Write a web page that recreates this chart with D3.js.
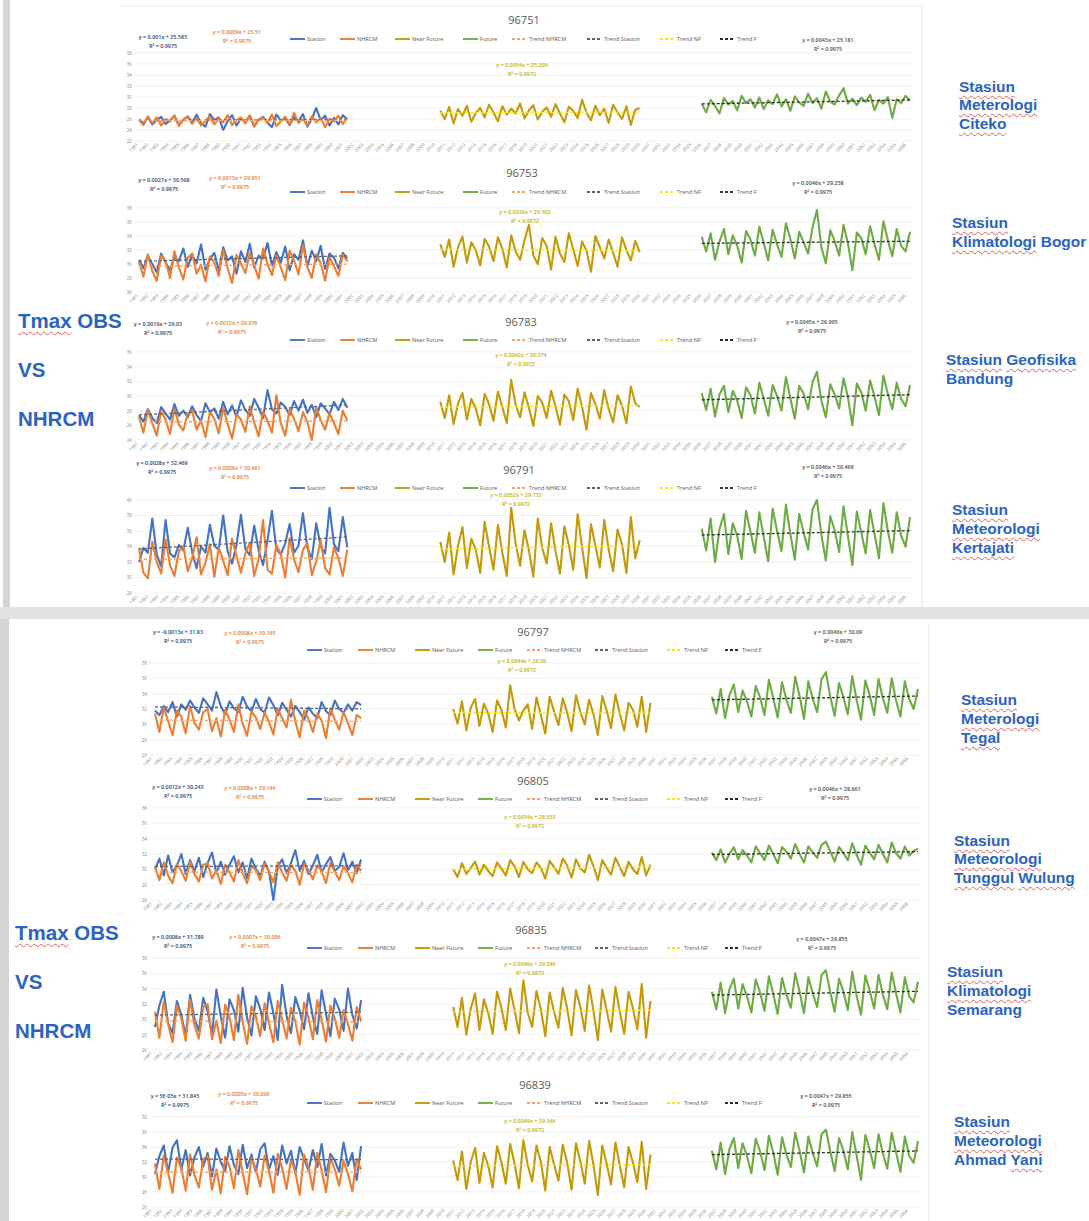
<!DOCTYPE html>
<html>
<head>
<meta charset="utf-8">
<script src="https://cdn.jsdelivr.net/npm/d3@7"></script>
<style>
  body { margin: 0; background: #fff; }
  #wrap { position: relative; width: 1089px; height: 1221px; overflow: hidden; background: #fff; }
  #chart { position: absolute; left: 0; top: 0; }
  .lab { position: absolute; color: #2b63c4; font-family: "Liberation Sans", Arial, sans-serif;
         font-weight: bold; line-height: 1; white-space: nowrap; }
  .sq { text-decoration-line: underline; text-decoration-style: wavy; text-decoration-color: #e06060;
        text-decoration-thickness: 1px; text-underline-offset: 3px; }
</style>
</head>
<body>
<div id="wrap"><svg id="chart" width="1089" height="1221"></svg></div>
<script>
// ---- chart data -------------------------------------------------------
const chartIds = ["96751", "96753", "96783", "96791", "96797", "96805", "96835", "96839"];

const stationNames = [
  ["Stasiun", "Meterologi", "Citeko"],
  ["Stasiun", "Klimatologi Bogor"],
  ["Stasiun Geofisika", "Bandung"],
  ["Stasiun", "Meteorologi", "Kertajati"],
  ["Stasiun", "Meterologi", "Tegal"],
  ["Stasiun", "Meteorologi", "Tunggul Wulung"],
  ["Stasiun", "Klimatologi", "Semarang"],
  ["Stasiun", "Meteorologi", "Ahmad Yani"]
];
const flaggedWords = ["Tmax", "Stasiun", "Meterologi", "Meteorologi", "Klimatologi", "Geofisika",
  "Citeko", "Kertajati", "Tegal", "Tunggul", "Wulung", "Yani"];
const sideTitle = ["Tmax OBS", "VS", "NHRCM"];

const legendNames = ["Station", "NHRCM", "Near Future", "Future", "Trend NHRCM", "Trend Stasiun", "Trend NF", "Trend F"];

const yTicks = [
  [22, 24, 26, 28, 30, 32, 34, 36, 38],
  [26, 28, 30, 32, 34, 36, 38],
  [24, 26, 28, 30, 32, 34, 36],
  [28, 30, 32, 34, 36, 38, 40],
  [26, 28, 30, 32, 34, 36, 38],
  [26, 28, 30, 32, 34, 36, 38],
  [26, 28, 30, 32, 34, 36, 38],
  [26, 28, 30, 32, 34, 36, 38]
];
const xTickLabels = d3.range(1981, 2057).map(String);

const eqStation = ["y = 0.001x + 25.583", "y = 0.0027x + 30.568", "y = 0.0016x + 29.03", "y = 0.0028x + 32.469",
  "y = -0.0013x + 31.83", "y = 0.0012x + 30.243", "y = 0.0008x + 31.789", "y = 5E-05x + 31.845"];
const eqNhrcm = ["y = 0.0009x + 25.51", "y = 0.0013x + 29.951", "y = 0.0012x + 26.976", "y = 0.0009x + 30.461",
  "y = 0.0008x + 30.165", "y = 0.0008x + 29.144", "y = 0.0007x + 30.096", "y = 0.0005x + 30.096"];
const eqNear = ["y = 0.0054x + 25.209", "y = 0.0036x + 29.502", "y = 0.0042x + 26.374", "y = 0.0052x + 29.733",
  "y = 0.0044x + 29.59", "y = 0.0034x + 28.553", "y = 0.0049x + 29.046", "y = 0.0049x + 29.346"];
const eqFuture = ["y = 0.0043x + 25.181", "y = 0.0046x + 29.238", "y = 0.0045x + 26.995", "y = 0.0046x + 30.469",
  "y = 0.0046x + 30.09", "y = 0.0046x + 28.661", "y = 0.0047x + 29.855", "y = 0.0047x + 29.855"];
const r2Obs = "R² = 0.9975";
const r2Near = "R² = 0.9972";
const r2Future = "R² = 0.9975";

// observed Tmax (°C)
const stationObs = [
  [25.9,25.2,26.3,25.0,25.8,26.4,25.1,25.7,26.6,24.9,25.9,26.5, 25.4,26.8,25.2,24.6,26.9,25.8,26.3,24.0,25.6,26.7,24.8,26.1,
   25.5,26.6,24.7,25.9,26.4,25.3,24.5,26.8,25.7,26.1,24.9,26.3, 25.6,26.9,24.6,26.0,28.0,25.8,26.6,24.8,26.2,25.0,26.7,25.9],
  [30.6,29.4,31.2,30.0,28.8,31.5,30.2,29.1,31.0,30.4,32.2,29.6, 31.3,30.1,32.8,29.2,30.7,31.6,29.0,32.4,30.5,31.1,28.6,31.8,
   30.3,32.9,29.5,31.2,30.8,33.0,29.8,31.7,30.2,32.5,29.1,31.4, 30.6,33.4,29.7,31.9,30.4,32.6,29.3,31.5,30.9,29.4,31.6,30.8],
  [27.4,26.5,28.2,27.0,26.3,28.5,27.6,26.8,28.9,27.3,28.0,27.1, 28.6,27.4,26.6,29.0,27.8,28.3,26.9,29.2,27.5,28.7,27.2,29.4,
   28.1,27.3,29.6,28.4,27.0,30.8,28.2,27.6,29.1,28.5,27.4,29.3, 28.0,29.5,27.7,28.8,27.1,29.0,28.3,27.5,29.2,28.1,29.6,28.4],
  [32.0,33.8,33.2,37.6,33.0,31.4,37.4,33.1,32.6,34.2,33.5,36.4, 33.3,31.2,34.0,33.2,36.8,34.1,33.6,38.0,33.4,31.8,34.2,38.1,
   33.7,32.9,36.7,33.5,31.6,34.8,38.6,33.6,33.0,34.4,36.9,33.2, 34.1,38.3,33.8,32.4,37.0,34.0,33.1,39.0,34.3,33.4,37.8,33.9],
  [31.8,31.2,32.4,31.6,32.9,31.0,32.6,31.9,33.1,32.2,31.5,33.4, 32.6,31.8,34.2,32.4,31.3,33.0,32.1,31.6,33.6,32.3,31.7,33.3,
   32.0,31.5,33.5,32.5,31.2,32.8,31.9,31.0,32.4,31.6,30.6,32.2, 31.4,30.8,32.9,31.7,31.2,33.1,32.0,31.5,32.6,31.8,32.9,32.5],
  [30.0,31.4,29.2,31.8,29.6,30.5,32.0,29.4,31.2,29.8,31.5,29.0, 30.8,32.2,29.5,31.0,29.3,30.6,31.7,29.6,30.9,28.8,31.4,30.1,
   29.2,31.0,29.7,26.0,30.4,31.3,29.5,30.8,32.5,29.8,31.1,29.4, 30.5,31.9,29.6,30.7,31.6,29.8,30.3,32.1,29.9,31.0,29.5,31.3],
  [29.0,31.8,33.6,29.5,28.2,32.4,30.6,27.8,33.2,30.1,28.5,32.8, 31.0,28.0,33.9,30.4,27.6,32.6,31.2,28.4,34.1,30.2,27.9,33.0,
   31.4,28.6,33.5,30.8,27.3,34.5,30.5,28.2,32.9,31.1,28.7,33.4, 30.3,28.1,33.8,30.7,27.8,32.7,31.3,28.5,34.0,30.6,28.8,32.5],
  [30.4,32.8,34.2,30.6,33.9,34.9,31.0,33.6,30.2,32.6,34.0,31.4, 33.2,30.1,33.8,32.0,30.8,34.1,31.6,30.4,34.3,31.2,33.0,30.6,
   33.7,34.5,31.0,32.8,30.3,34.2,31.8,33.5,30.5,34.0,32.4,30.9, 33.6,31.3,34.4,30.2,33.1,32.2,30.7,34.6,31.5,33.2,29.6,34.1]
];

// NHRCM historical run (°C)
const nhrcmHist = [
  [25.8,24.9,26.5,25.2,26.3,24.8,26.0,25.5,26.6,24.7,25.9,26.4, 25.1,26.2,24.8,25.7,26.5,25.0,26.1,25.4,26.7,24.9,25.8,26.3,
   25.2,26.6,24.6,25.9,26.2,25.3,26.8,24.7,25.6,26.4,25.0,27.1, 25.3,26.0,24.8,26.5,25.4,26.2,24.5,26.0,25.6,26.6,25.1,26.2],
  [30.3,28.2,31.4,29.0,27.6,31.2,30.4,28.0,31.8,29.5,27.8,30.9, 31.5,28.6,29.9,27.5,31.1,30.2,28.3,32.0,29.4,27.3,31.3,30.1,
   28.7,31.6,29.8,27.9,32.2,30.0,28.4,31.2,29.5,27.7,31.9,30.5, 28.5,32.7,29.6,28.0,31.4,30.1,27.6,31.0,29.7,28.3,31.3,30.4],
  [27.2,25.0,28.1,26.3,24.6,27.9,26.8,24.8,28.3,26.1,25.3,27.6, 28.0,25.4,26.7,24.4,27.8,26.9,24.9,28.4,26.2,24.2,27.5,26.8,
   25.1,28.6,26.4,24.5,27.9,26.6,25.0,30.1,26.3,24.6,28.2,26.9, 25.2,27.8,26.5,24.0,28.5,26.7,25.4,27.7,26.3,24.8,28.0,26.6],
  [33.8,30.6,29.9,34.6,32.0,30.5,34.9,31.6,30.2,33.4,34.1,30.8, 32.5,35.2,30.4,31.9,34.3,30.1,33.8,32.2,30.3,35.0,32.8,30.6,
   33.1,34.5,30.2,32.4,37.4,31.0,30.5,34.2,33.0,30.0,35.1,32.3, 30.7,33.6,34.4,30.3,32.1,34.8,31.2,30.4,33.9,32.5,30.2,33.6],
  [31.4,29.0,32.2,30.4,28.6,31.8,31.0,28.8,32.4,30.2,29.3,31.6, 32.0,29.1,30.8,28.4,31.9,30.6,29.0,32.6,30.1,28.5,31.7,30.9,
   29.4,31.5,30.3,28.7,32.0,30.8,29.6,33.2,30.4,28.3,31.8,30.7, 29.0,31.4,30.5,28.2,32.1,30.6,29.3,31.6,30.2,28.6,31.2,30.8],
  [30.4,28.6,30.9,29.2,28.2,30.7,29.8,28.5,31.0,29.4,28.4,30.6, 30.8,28.8,29.9,28.1,30.6,29.6,28.4,31.2,29.5,28.2,30.5,29.9,
   28.6,30.8,29.7,28.3,30.9,29.6,28.5,30.6,29.8,28.0,30.7,29.9, 28.7,30.5,29.8,28.2,30.9,29.7,28.6,30.4,29.5,28.3,30.6,29.8],
  [31.0,27.6,32.3,29.4,27.0,31.8,30.1,27.2,32.6,29.2,27.5,31.6, 32.0,27.4,29.8,26.9,31.9,30.3,27.3,33.2,29.6,26.8,31.7,30.4,
   27.8,32.1,29.5,27.0,32.4,30.0,27.5,31.5,29.7,26.7,32.2,30.2, 27.4,32.5,29.9,27.1,31.8,30.1,27.6,31.2,29.4,27.2,31.6,29.8],
  [31.8,28.4,32.9,30.5,27.9,32.6,31.2,28.2,33.0,30.3,28.6,32.4, 32.8,28.3,31.0,27.8,32.7,31.4,28.5,33.6,30.6,27.7,32.5,31.1,
   28.7,32.9,30.8,27.9,33.1,31.2,28.4,32.3,30.7,27.6,33.0,31.3, 28.3,33.2,30.9,28.0,32.6,31.0,28.8,32.2,30.4,28.1,32.4,31.0]
];

// NHRCM near-future projection (°C)
const nearFuture = [
  [27.5,26.0,28.2,25.2,27.8,26.6,28.4,25.5,27.1,28.0,26.3,28.6, 27.2,25.6,28.3,26.8,27.9,27.0,28.8,26.1,27.6,28.5,25.9,27.3,
   28.1,26.4,28.7,27.0,25.4,28.2,27.5,26.2,29.5,27.1,25.8,28.4, 26.7,27.9,25.3,28.6,27.2,26.0,28.3,24.9,27.7,28.0],
  [32.8,31.0,33.5,29.6,32.4,33.9,30.2,33.1,32.0,29.8,33.6,32.5, 30.4,33.8,32.2,29.5,34.1,31.8,30.6,33.4,35.6,31.2,30.0,33.7,
   32.6,29.2,33.9,31.5,30.3,34.4,32.1,29.7,33.2,31.9,28.9,34.0, 32.4,30.8,33.5,31.6,29.6,33.8,32.0,30.5,33.3,31.7],
  [29.2,27.0,30.1,26.2,29.0,30.4,26.8,29.6,28.3,26.0,30.3,28.9, 26.6,30.6,28.5,26.3,32.2,28.8,27.1,30.5,28.4,25.9,30.0,29.1,
   27.0,30.7,28.6,26.1,30.2,29.3,26.7,31.0,28.5,25.4,30.4,28.9, 26.9,30.8,28.2,26.4,30.1,28.7,26.3,31.3,29.0,28.5],
  [34.6,32.0,35.8,30.4,34.1,36.5,31.2,35.0,33.6,30.6,37.2,34.0, 31.0,36.8,33.2,30.2,39.0,34.4,31.5,36.1,33.5,30.1,37.6,33.8,
   31.8,37.0,33.4,30.5,36.6,34.2,31.0,38.2,33.9,29.9,36.9,34.1, 31.3,37.4,33.6,30.8,36.2,34.3,30.6,37.8,32.5,34.8],
  [32.0,30.1,33.0,29.2,32.2,33.3,29.8,32.7,31.4,29.0,33.1,31.9, 29.6,35.1,32.0,30.5,31.8,32.6,29.4,33.5,31.2,28.8,33.6,31.7,
   29.9,33.4,31.5,29.1,33.8,31.6,30.0,33.2,31.3,28.6,33.7,31.8, 29.5,33.9,31.4,29.2,32.8,31.9,29.7,33.6,29.0,32.8],
  [30.0,29.0,30.8,29.4,30.2,31.0,29.3,30.6,29.8,29.1,30.9,30.1, 29.2,31.2,30.4,29.0,31.0,30.0,29.5,30.9,30.2,28.8,31.1,30.3,
   29.4,31.4,30.5,28.9,31.3,30.1,29.6,31.9,30.4,28.6,31.2,30.2, 29.3,31.5,30.3,29.1,31.0,30.0,29.4,31.6,29.2,30.6],
  [31.6,29.0,32.8,28.0,31.4,33.4,28.6,32.6,30.8,28.1,33.6,31.5, 28.6,34.0,31.2,28.2,35.1,30.9,29.0,33.7,31.3,27.8,33.5,31.0,
   28.9,34.1,31.4,27.9,33.8,31.6,28.5,34.4,31.1,27.3,33.9,31.2, 28.4,34.2,31.0,28.1,33.6,31.4,28.7,34.6,27.6,32.4],
  [32.2,29.6,33.4,28.4,32.0,33.9,29.2,33.2,31.5,28.6,34.1,32.0, 29.1,34.4,31.8,28.5,34.9,31.6,29.4,34.2,32.0,28.2,34.0,31.7,
   29.5,34.3,31.9,28.3,34.5,32.1,29.1,34.8,31.6,27.6,34.2,31.8, 29.0,34.6,31.5,28.6,34.0,31.9,29.3,34.7,28.4,33.0]
];

// NHRCM far-future projection (°C)
const farFuture = [
  [28.8,27.2,29.5,28.4,27.0,29.8,28.6,29.3,27.6,30.2,28.9,29.6, 28.1,29.9,27.8,29.4,28.7,30.5,28.3,29.6,27.5,30.1,29.0,28.4,
   30.6,28.9,29.8,27.9,31.0,29.2,28.6,30.3,31.6,28.8,29.7,28.5, 29.9,29.1,30.4,27.6,29.5,28.8,30.0,26.2,29.6,28.9,30.2,29.4],
  [33.9,31.8,34.4,30.6,33.2,35.0,31.4,34.1,32.6,30.2,34.7,33.5, 31.2,35.3,33.0,30.5,34.9,32.8,31.0,35.8,33.6,30.8,34.6,33.1,
   31.5,35.2,37.7,32.4,30.1,34.8,33.3,31.2,35.6,32.9,29.1,34.5, 33.7,31.4,35.4,32.8,30.6,36.1,33.4,31.1,35.0,32.6,31.8,34.6],
  [30.4,28.1,31.0,27.2,30.2,31.4,27.8,30.7,29.4,27.0,31.2,30.1, 27.6,31.8,29.6,27.3,31.5,30.0,28.0,32.6,29.7,26.9,31.4,30.3,
   28.2,31.9,33.3,29.4,27.1,31.6,30.2,28.3,32.4,29.8,26.0,31.7, 30.5,28.0,32.1,29.9,27.4,32.8,30.3,28.2,31.8,29.6,28.6,31.5],
  [36.3,33.5,37.6,32.0,36.2,38.2,33.0,37.0,35.4,32.4,38.6,35.9, 33.2,38.4,35.2,32.1,38.9,36.0,33.4,39.4,35.6,32.3,38.2,35.8,
   33.6,38.8,40.0,35.5,32.2,37.9,36.1,33.3,39.2,35.3,31.6,38.5, 35.8,33.1,38.7,35.6,32.5,39.6,36.0,33.2,38.4,35.4,34.0,37.8],
  [33.6,31.4,34.6,30.8,33.8,35.2,31.6,34.4,33.0,31.0,35.0,33.5, 31.2,35.8,33.4,30.9,35.5,33.2,31.5,36.2,33.7,30.7,35.6,33.3,
   31.6,35.9,36.8,33.6,31.1,35.4,33.5,31.3,36.3,33.2,30.6,35.7, 33.8,31.2,35.9,33.4,31.5,36.0,33.1,31.0,35.6,33.3,32.0,34.6],
  [32.2,31.2,32.6,30.9,32.0,32.9,31.3,32.5,31.8,30.9,33.0,32.1, 31.2,33.1,32.0,30.8,32.9,32.3,31.4,33.3,32.0,30.9,33.0,32.2,
   31.5,33.2,33.6,32.3,31.0,32.9,32.1,31.2,33.4,31.9,30.6,33.1, 32.2,31.3,33.2,32.0,30.9,33.5,32.1,31.4,33.0,31.8,32.4,32.7],
  [33.6,31.3,34.8,30.8,33.9,35.3,31.4,34.6,33.0,30.9,35.2,33.5, 31.1,35.6,33.3,30.7,35.4,33.2,31.5,36.0,33.6,30.8,35.5,33.4,
   31.6,35.8,36.4,33.5,31.0,35.3,33.6,31.2,36.2,33.1,30.6,35.7, 33.7,31.4,35.8,33.2,31.3,36.1,33.4,30.9,35.5,33.0,32.2,34.9],
  [33.5,31.0,34.6,30.4,33.7,35.2,31.2,34.5,32.8,30.5,35.1,33.4, 30.9,35.5,33.2,30.3,35.3,33.0,31.3,35.9,33.5,30.6,35.4,33.2,
   31.4,35.7,36.3,33.4,30.8,35.2,33.5,31.0,36.0,32.9,29.6,35.6, 33.6,31.2,35.7,33.1,31.1,35.9,33.3,30.7,35.4,32.8,31.9,34.8]
];

// ---- layout -------------------------------------------------------------
const COL = {
  station: "#4472c4", nhrcm: "#ed7d31", near: "#c49a0a", future: "#6eab45",
  trNh: "#f4a46a", trSt: "#5a6478", trNf: "#ffe21a", trF: "#263326",
  eqSt: "#2a3f72", eqNh: "#e27a2e", eqNf: "#c2b000", eqF: "#4a4a4a",
  text: "#595959", tick: "#8c8c8c", grid: "#ececec"
};
const SLOT_NEAR = 68, SLOT_FAR = 127, SLOT_MAX = 174;

const panelA = { x0: 139, x1: 910, gridL: 134, gridR: 913, yLabX: 133, lab0: 137, lab1: 905,
  legendX: [290, 340, 395, 463, 512, 587, 660, 720] };
const panelB = { x0: 155, x1: 918, gridL: 150, gridR: 921, yLabX: 148, lab0: 151, lab1: 907,
  legendX: [307, 358, 415, 478, 527, 595, 667, 725] };

const boxes = [
  { p: panelA, tx: 524, ty: 24,   ly: 39,   top: 53,   bottom: 141,  st: [163, 39],   nh: [237, 34],   nf: [522, 67],   f: [828, 42] },
  { p: panelA, tx: 522, ty: 177,  ly: 192,  top: 208,  bottom: 292,  st: [164, 182],  nh: [235, 180],  nf: [525, 214],  f: [818, 185] },
  { p: panelA, tx: 521, ty: 326,  ly: 340,  top: 352,  bottom: 440,  st: [158, 326],  nh: [232, 325],  nf: [521, 357],  f: [812, 324] },
  { p: panelA, tx: 519, ty: 474,  ly: 488,  top: 500,  bottom: 593,  st: [162, 465],  nh: [235, 470],  nf: [516, 497],  f: [828, 469] },
  { p: panelB, tx: 533, ty: 636,  ly: 650,  top: 663,  bottom: 755,  st: [178, 634],  nh: [250, 635],  nf: [522, 663],  f: [838, 634] },
  { p: panelB, tx: 533, ty: 785,  ly: 799,  top: 808,  bottom: 900,  st: [178, 789],  nh: [250, 790],  nf: [530, 819],  f: [835, 791] },
  { p: panelB, tx: 531, ty: 934,  ly: 948,  top: 958,  bottom: 1050, st: [178, 939],  nh: [255, 939],  nf: [530, 966],  f: [822, 941] },
  { p: panelB, tx: 535, ty: 1089, ly: 1103, top: 1117, bottom: 1207, st: [175, 1098], nh: [244, 1096], nf: [530, 1123], f: [826, 1098] }
];

const sideLabelPos = [
  { x: 959, y: 92,   gap: 18.5 }, { x: 952, y: 228,  gap: 19 }, { x: 946, y: 365,  gap: 19 }, { x: 952, y: 515,  gap: 19 },
  { x: 961, y: 705,  gap: 19 },   { x: 954, y: 846,  gap: 18.5 }, { x: 947, y: 977, gap: 19 }, { x: 954, y: 1127, gap: 19 }
];
const leftTitlePos = [{ x: 18, y: 328 }, { x: 15, y: 940 }];

const svg = d3.select("#chart");
const FONT = "'Open Sans', 'Liberation Sans', sans-serif";

// ---- page frame (two stacked panels) -----------------------------------
svg.append("rect").attr("x", 3).attr("y", 0).attr("width", 7).attr("height", 607).attr("fill", "#d6d6d6");
svg.append("rect").attr("x", 0).attr("y", 607).attr("width", 1089).attr("height", 12).attr("fill", "#e2e2e2");
svg.append("rect").attr("x", 0).attr("y", 619).attr("width", 9).attr("height", 602).attr("fill", "#d4d4d4");
svg.append("line").attr("x1", 922).attr("x2", 922).attr("y1", 6).attr("y2", 607).attr("stroke", "#e6e6e6");
svg.append("line").attr("x1", 929).attr("x2", 929).attr("y1", 624).attr("y2", 1221).attr("stroke", "#e6e6e6");
svg.append("line").attr("x1", 120).attr("x2", 922).attr("y1", 6).attr("y2", 6).attr("stroke", "#eeeeee");

function linearFit(vals) {
  const n = vals.length, xm = (n - 1) / 2, ym = d3.mean(vals);
  let sxy = 0, sxx = 0;
  vals.forEach((v, i) => { sxy += (i - xm) * (v - ym); sxx += (i - xm) * (i - xm); });
  const b = sxy / sxx;
  return { a: ym - b * xm, b };
}

boxes.forEach((b, k) => {
  const P = b.p;
  const g = svg.append("g");
  const ticks = yTicks[k];
  const x = d3.scaleLinear().domain([0, SLOT_MAX]).range([P.x0, P.x1]);
  const y = d3.scaleLinear().domain([ticks[0], ticks[ticks.length - 1]]).range([b.bottom, b.top]);

  // horizontal gridlines
  g.append("g").selectAll("line").data(ticks).join("line")
    .attr("x1", P.gridL).attr("x2", P.gridR)
    .attr("y1", d => y(d)).attr("y2", d => y(d))
    .attr("stroke", COL.grid).attr("stroke-width", 0.7);

  // y axis labels
  const ya = g.append("g").attr("transform", `translate(${P.yLabX},0)`)
    .call(d3.axisLeft(y).tickValues(ticks).tickSize(0).tickPadding(1));
  ya.select(".domain").remove();
  ya.selectAll("text").attr("font-size", 4.6).attr("fill", COL.tick).attr("font-family", FONT);

  // x axis: rotated category labels
  const xl = d3.scalePoint().domain(xTickLabels).range([P.lab0, P.lab1]);
  const xa = g.append("g").attr("transform", `translate(0,${b.bottom + 3})`)
    .call(d3.axisBottom(xl).tickSize(0).tickPadding(0));
  xa.select(".domain").remove();
  xa.selectAll("text").attr("font-size", 4.6).attr("fill", COL.tick).attr("font-family", FONT)
    .attr("text-anchor", "end").attr("dy", "0.3em").attr("dx", "0")
    .attr("transform", "rotate(-45)");

  // series
  const series = [
    { vals: stationObs[k], start: 0, color: COL.station, trend: COL.trSt },
    { vals: nhrcmHist[k], start: 0, color: COL.nhrcm, trend: COL.trNh },
    { vals: nearFuture[k], start: SLOT_NEAR, color: COL.near, trend: COL.trNf },
    { vals: farFuture[k], start: SLOT_FAR, color: COL.future, trend: COL.trF }
  ];
  series.forEach(s => {
    const line = d3.line().x((d, i) => x(s.start + i)).y(d => y(d));
    g.append("path").datum(s.vals).attr("d", line)
      .attr("fill", "none").attr("stroke", s.color).attr("stroke-width", 2.1)
      .attr("stroke-linejoin", "round");
  });
  series.forEach(s => {
    const f = linearFit(s.vals);
    const n = s.vals.length;
    g.append("line")
      .attr("x1", x(s.start)).attr("x2", x(s.start + n - 1))
      .attr("y1", y(f.a)).attr("y2", y(f.a + f.b * (n - 1)))
      .attr("stroke", s.trend).attr("stroke-width", 1.3).attr("stroke-dasharray", "3,2");
  });

  // title
  g.append("text").attr("x", b.tx).attr("y", b.ty).attr("text-anchor", "middle")
    .attr("font-size", 11).attr("fill", COL.text).attr("font-family", FONT).text(chartIds[k]);

  // legend
  const legendStyle = [
    { c: COL.station, d: null }, { c: COL.nhrcm, d: null }, { c: COL.near, d: null }, { c: COL.future, d: null },
    { c: COL.trNh, d: "3,2" }, { c: COL.trSt, d: "3,2" }, { c: COL.trNf, d: "3,2" }, { c: COL.trF, d: "3,2" }
  ];
  legendNames.forEach((name, j) => {
    const lx = P.legendX[j];
    g.append("line").attr("x1", lx).attr("x2", lx + 15).attr("y1", b.ly).attr("y2", b.ly)
      .attr("stroke", legendStyle[j].c).attr("stroke-width", 1.9)
      .attr("stroke-dasharray", legendStyle[j].d);
    g.append("text").attr("x", lx + 17).attr("y", b.ly + 2).attr("font-size", 5.6)
      .attr("fill", COL.text).attr("font-family", FONT).text(name);
  });

  // regression labels
  const eqs = [
    { pos: b.st, t: eqStation[k], r: r2Obs, c: COL.eqSt },
    { pos: b.nh, t: eqNhrcm[k], r: r2Obs, c: COL.eqNh },
    { pos: b.nf, t: eqNear[k], r: r2Near, c: COL.eqNf },
    { pos: b.f, t: eqFuture[k], r: r2Future, c: COL.eqF }
  ];
  eqs.forEach(e => {
    const t = g.append("text").attr("text-anchor", "middle").attr("font-size", 5.4)
      .attr("fill", e.c).attr("font-family", FONT).attr("font-weight", 600);
    t.append("tspan").attr("x", e.pos[0]).attr("y", e.pos[1]).text(e.t);
    t.append("tspan").attr("x", e.pos[0]).attr("y", e.pos[1] + 8.5).text(e.r);
  });
});

// ---- station names and side titles (HTML, with spell-check squiggles) ---
const wrap = d3.select("#wrap");
function addLabel(lines, x, baseline, gap, size) {
  const asc = 0.8465 * size; // baseline offset for line-height 1
  lines.forEach((ln, i) => {
    const div = wrap.append("div").attr("class", "lab")
      .style("left", x + "px").style("top", (baseline + i * gap - asc) + "px")
      .style("font-size", size + "px");
    ln.split(" ").forEach((w, j) => {
      if (j > 0) div.append("span").text(" ");
      div.append("span").attr("class", flaggedWords.includes(w) ? "sq" : null).text(w);
    });
  });
}
stationNames.forEach((lines, k) => {
  const p = sideLabelPos[k];
  addLabel(lines, p.x, p.y, p.gap, 15.5);
});
leftTitlePos.forEach(p => addLabel(sideTitle, p.x, p.y, 49, 20.5));
</script>
</body>
</html>
